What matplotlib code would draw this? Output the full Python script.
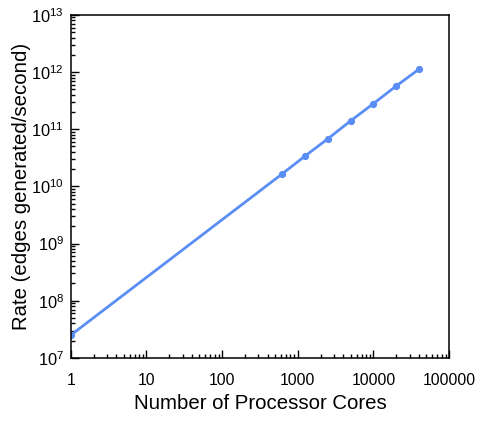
import matplotlib
matplotlib.use("Agg")
import matplotlib.pyplot as plt
from matplotlib.ticker import LogLocator, FixedLocator, FixedFormatter, NullFormatter

plt.rcParams['font.family'] = ['Liberation Sans', 'DejaVu Sans']
plt.rcParams['mathtext.fontset'] = 'custom'
plt.rcParams['mathtext.rm'] = 'Liberation Sans'
plt.rcParams['mathtext.it'] = 'Liberation Sans'

cores = [1, 625, 1250, 2500, 5000, 10000, 20000, 40000]
rate = [2.5e7, 1.66e10, 3.4e10, 6.8e10, 1.4e11, 2.8e11, 5.7e11, 1.12e12]

x_ticks = [1, 10, 100, 1000, 10000, 100000]
x_labels = ['1', '10', '100', '1000', '10000', '100000']
y_ticks = [1e7, 1e8, 1e9, 1e10, 1e11, 1e12, 1e13]
y_labels = [r'$10^{7}$', r'$10^{8}$', r'$10^{9}$', r'$10^{10}$', r'$10^{11}$', r'$10^{12}$', r'$10^{13}$']

color = '#5b8ef5'

fig = plt.figure(figsize=(4.85, 4.24), dpi=100)
ax = fig.add_axes([0.146, 0.156, 0.78, 0.809])
ax.plot(cores, rate, color=color, lw=2, marker='o', ms=4.2, solid_capstyle='round')
ax.set_xscale('log')
ax.set_yscale('log')
ax.set_xlim(1, 100000)
ax.set_ylim(1e7, 1e13)

ax.xaxis.set_major_locator(FixedLocator(x_ticks))
ax.xaxis.set_major_formatter(FixedFormatter(x_labels))
ax.yaxis.set_major_locator(FixedLocator(y_ticks))
ax.yaxis.set_major_formatter(FixedFormatter(y_labels))
ax.xaxis.set_minor_locator(LogLocator(base=10, subs=range(2, 10), numticks=20))
ax.yaxis.set_minor_locator(LogLocator(base=10, subs=range(2, 10), numticks=20))
ax.xaxis.set_minor_formatter(NullFormatter())
ax.yaxis.set_minor_formatter(NullFormatter())

ax.tick_params(which='both', direction='in', top=False, right=False, width=1, colors='black')
ax.tick_params(axis='x', which='major', labelsize=11.3, pad=11)
ax.tick_params(axis='y', which='major', labelsize=11.8, pad=5)
ax.tick_params(which='major', length=6)
ax.tick_params(which='minor', length=3)
for s in ax.spines.values():
    s.set_linewidth(1.1)

ax.set_xlabel('Number of Processor Cores', fontsize=14.7, labelpad=4)
ax.set_ylabel('Rate (edges generated/second)', fontsize=14.7)
ax.yaxis.set_label_coords(-0.105, 0.5)

fig.savefig('out.png', dpi=100)
